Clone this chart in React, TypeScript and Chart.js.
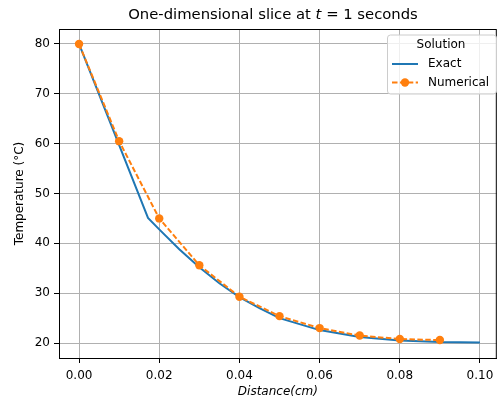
import React, { useEffect, useRef } from "react";
import { Chart, registerables } from "chart.js";
Chart.register(...registerables);

const exactX = [0, 0.0172, 0.02, 0.025, 0.03, 0.035, 0.04, 0.045, 0.05, 0.06, 0.07, 0.08, 0.09, 0.1];
const exactT = [80, 45.1, 42.8, 38.8, 35.2, 32.0, 29.2, 27.0, 25.0, 22.6, 21.2, 20.5, 20.2, 20.1];
const numX = [0, 0.01, 0.02, 0.03, 0.04, 0.05, 0.06, 0.07, 0.08, 0.09];
const numT = [80, 60.5, 45.0, 35.6, 29.3, 25.4, 23.0, 21.5, 20.8, 20.6];
const xTicks = [0, 0.02, 0.04, 0.06, 0.08, 0.1];
const yTicks = [20, 30, 40, 50, 60, 70, 80];

const BLUE = "#1f77b4";
const ORANGE = "#ff7f0e";
const FONT = "'DejaVu Sans', sans-serif";

const decor = {
  id: "decor",
  afterDraw(chart: any) {
    const { ctx, chartArea: a } = chart;
    ctx.save();
    // frame
    ctx.strokeStyle = "#000";
    ctx.lineWidth = 1;
    ctx.strokeRect(a.left + 0.5, a.top + 0.5, a.right - a.left - 1, a.bottom - a.top);
    // title
    const parts = [
      { t: "One-dimensional slice at ", f: `14.8px ${FONT}` },
      { t: "t", f: `italic 14.8px ${FONT}` },
      { t: " = 1 seconds", f: `14.8px ${FONT}` },
    ];
    let total = 0;
    for (const p of parts) { ctx.font = p.f; total += ctx.measureText(p.t).width; }
    let x = 273 - total / 2;
    ctx.fillStyle = "#000";
    ctx.textBaseline = "middle";
    ctx.textAlign = "left";
    for (const p of parts) { ctx.font = p.f; ctx.fillText(p.t, x, 15.5); x += ctx.measureText(p.t).width; }
    // legend
    const lx = 387.5, ly = 35, lw = 109, lh = 59, r = 3;
    ctx.beginPath();
    ctx.moveTo(lx + r, ly);
    ctx.arcTo(lx + lw, ly, lx + lw, ly + lh, r);
    ctx.arcTo(lx + lw, ly + lh, lx, ly + lh, r);
    ctx.arcTo(lx, ly + lh, lx, ly, r);
    ctx.arcTo(lx, ly, lx + lw, ly, r);
    ctx.closePath();
    ctx.fillStyle = "rgba(255,255,255,0.8)";
    ctx.fill();
    ctx.strokeStyle = "#cccccc";
    ctx.lineWidth = 1;
    ctx.stroke();
    ctx.fillStyle = "#000";
    ctx.font = `12px ${FONT}`;
    ctx.textAlign = "center";
    ctx.fillText("Solution", 441, 45);
    ctx.textAlign = "left";
    ctx.fillText("Exact", 428, 64);
    ctx.fillText("Numerical", 428, 82.5);
    ctx.strokeStyle = BLUE;
    ctx.lineWidth = 2;
    ctx.beginPath(); ctx.moveTo(392, 64); ctx.lineTo(418, 64); ctx.stroke();
    ctx.strokeStyle = ORANGE;
    ctx.setLineDash([5.5, 2.4]);
    ctx.beginPath(); ctx.moveTo(392, 82.5); ctx.lineTo(418, 82.5); ctx.stroke();
    ctx.setLineDash([]);
    ctx.fillStyle = ORANGE;
    ctx.beginPath(); ctx.arc(405, 82.5, 4.2, 0, Math.PI * 2); ctx.fill();
    ctx.restore();
  },
};

export default function App() {
  const ref = useRef<HTMLCanvasElement>(null);
  useEffect(() => {
    const chart = new Chart(ref.current!, {
      type: "line",
      data: {
        datasets: [
          {
            label: "Numerical",
            data: numX.map((x, i) => ({ x, y: numT[i] })),
            borderColor: ORANGE,
            backgroundColor: ORANGE,
            borderWidth: 2,
            borderDash: [5.5, 2.4],
            pointRadius: 4.2,
            pointBackgroundColor: ORANGE,
            pointBorderWidth: 0,
            tension: 0,
            order: 0,
          },
          {
            label: "Exact",
            data: exactX.map((x, i) => ({ x, y: exactT[i] })),
            borderColor: BLUE,
            backgroundColor: BLUE,
            borderWidth: 2,
            pointRadius: 0,
            tension: 0,
            order: 1,
          },
        ],
      },
      options: {
        responsive: false,
        animation: false,
        layout: { padding: { top: 29, right: 2, left: 0, bottom: 0 } },
        plugins: { legend: { display: false }, title: { display: false }, tooltip: { enabled: false } },
        scales: {
          x: {
            type: "linear",
            min: -0.005,
            max: 0.1042,
            afterBuildTicks: (s: any) => { s.ticks = xTicks.map((v) => ({ value: v })); },
            afterFit: (s: any) => { s.height = 43; },
            ticks: {
              callback: (v: any) => Number(v).toFixed(2),
              font: { family: FONT, size: 12 },
              color: "#000",
              padding: 6,
              maxRotation: 0,
              autoSkip: false,
            },
            grid: { color: "#b0b0b0", lineWidth: 1, tickLength: 5, tickColor: "#000" },
            border: { color: "#000", width: 1 },
            title: {
              display: true,
              text: "Distance(cm)",
              font: { family: FONT, size: 12, style: "italic" },
              color: "#000",
              padding: { top: 0, bottom: 2 },
            },
          },
          y: {
            type: "linear",
            min: 17,
            max: 83,
            afterBuildTicks: (s: any) => { s.ticks = yTicks.map((v) => ({ value: v })); },
            afterFit: (s: any) => { s.width = 59; },
            ticks: {
              font: { family: FONT, size: 12 },
              color: "#000",
              padding: 4,
            },
            grid: { color: "#b0b0b0", lineWidth: 1, tickLength: 5, tickColor: "#000" },
            border: { color: "#000", width: 1 },
            title: {
              display: true,
              text: "Temperature (°C)",
              font: { family: FONT, size: 12 },
              color: "#000",
              padding: { top: 13, bottom: 0 },
            },
          },
        },
      },
      plugins: [decor],
    });
    return () => chart.destroy();
  }, []);
  return (
    <div style={{ position: "absolute", left: 0, top: 0, width: 501, height: 401 }}>
      <canvas ref={ref} width={501} height={401} />
    </div>
  );
}
